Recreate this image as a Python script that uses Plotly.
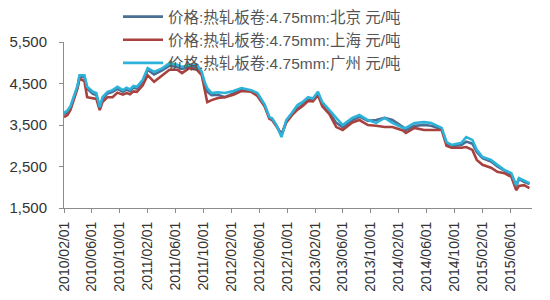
import plotly.graph_objects as go

dates = ["2010-02-01", "2010-02-16", "2010-03-01", "2010-03-16", "2010-04-01", "2010-04-10",
         "2010-05-01", "2010-05-13", "2010-06-07", "2010-06-22", "2010-07-07", "2010-07-19",
         "2010-08-10", "2010-09-01", "2010-09-22", "2010-10-16", "2010-11-01", "2010-11-16",
         "2010-12-01", "2010-12-16", "2011-01-10", "2011-02-01", "2011-03-01", "2011-04-07",
         "2011-05-07", "2011-06-10", "2011-07-01", "2011-08-01", "2011-09-04", "2011-09-25",
         "2011-10-07", "2011-10-19", "2011-11-07", "2011-12-05", "2012-01-04", "2012-02-10",
         "2012-03-16", "2012-04-28", "2012-05-25", "2012-06-25", "2012-07-16", "2012-07-28",
         "2012-08-16", "2012-09-07", "2012-09-28", "2012-10-22", "2012-11-16", "2012-12-07",
         "2013-01-01", "2013-01-22", "2013-02-13", "2013-03-04", "2013-04-04", "2013-05-04",
         "2013-06-01", "2013-07-13", "2013-08-13", "2013-09-19", "2013-10-25", "2013-12-01",
         "2014-01-04", "2014-02-19", "2014-03-04", "2014-04-10", "2014-05-22", "2014-06-22",
         "2014-08-07", "2014-08-28", "2014-09-19", "2014-11-01", "2014-11-22", "2014-12-19",
         "2015-01-07", "2015-02-01", "2015-03-10", "2015-04-07", "2015-05-07", "2015-06-07",
         "2015-06-28", "2015-07-10", "2015-08-01", "2015-08-25"]

guangzhou = [3790, 3850, 3950, 4200, 4450, 4700,
             4700, 4420, 4300, 4270, 3930, 4170,
             4300, 4340, 4420, 4340, 4400, 4360,
             4440, 4420, 4580, 4870, 4780, 4870,
             4990, 4950, 4900, 4950, 4950, 4780,
             4540, 4390, 4270, 4290, 4270, 4320,
             4390, 4340, 4270, 4000, 3690, 3660,
             3500, 3210, 3620, 3790, 3980, 4050,
             4170, 4140, 4300, 4050, 3860, 3670,
             3500, 3670, 3740, 3620, 3550, 3670,
             3550, 3430, 3430, 3550, 3570, 3550,
             3430, 3090, 3020, 3070, 3210, 3140,
             2900, 2730, 2660, 2540, 2420, 2340,
             2050, 2220, 2170, 2100]
beijing = [3760, 3820, 3920, 4170, 4420, 4680,
           4660, 4380, 4250, 4220, 3900, 4120,
           4260, 4300, 4370, 4300, 4350, 4320,
           4400, 4380, 4540, 4830, 4720, 4820,
           4930, 4900, 4850, 4900, 4900, 4740,
           4500, 4300, 4220, 4230, 4170, 4260,
           4350, 4320, 4220, 3980, 3680, 3640,
           3480, 3260, 3580, 3750, 3900, 3980,
           4100, 4100, 4250, 4000, 3800, 3550,
           3450, 3620, 3700, 3600, 3620, 3670,
           3620, 3450, 3380, 3480, 3500, 3480,
           3400, 3060, 2990, 3020, 3100, 3050,
           2850, 2700, 2620, 2500, 2400, 2300,
           2020, 2200, 2130, 2080]
shanghai = [3690, 3740, 3860, 4100, 4380, 4620,
            4560, 4170, 4150, 4130, 3860, 4050,
            4170, 4170, 4280, 4230, 4270, 4240,
            4310, 4300, 4450, 4700, 4540, 4700,
            4830, 4830, 4750, 4870, 4830, 4700,
            4400, 4050, 4100, 4150, 4170, 4230,
            4320, 4300, 4200, 3950, 3650, 3620,
            3470, 3280, 3560, 3730, 3870, 3950,
            4080, 4070, 4220, 3950, 3760, 3450,
            3380, 3560, 3620, 3500, 3480, 3450,
            3450, 3370, 3310, 3430, 3380, 3380,
            3380, 3000, 2950, 2950, 2970, 2900,
            2660, 2540, 2470, 2370, 2340, 2250,
            1930, 2030, 2050, 1980]

names = ["价格:热轧板卷:4.75mm:北京 元/吨",
         "价格:热轧板卷:4.75mm:上海 元/吨",
         "价格:热轧板卷:4.75mm:广州 元/吨"]
colors = ["#4A6E94", "#A8423F", "#2DB3DA"]

tick_dates = ["2010-02-01", "2010-06-01", "2010-10-01", "2011-02-01", "2011-06-01",
              "2011-10-01", "2012-02-01", "2012-06-01", "2012-10-01", "2013-02-01",
              "2013-06-01", "2013-10-01", "2014-02-01", "2014-06-01", "2014-10-01",
              "2015-02-01", "2015-06-01"]
tick_text = [d.replace("-", "/") for d in tick_dates]
y_ticks = [1500, 2500, 3500, 4500, 5500]

fig = go.Figure()
for i, (name, vals) in enumerate(zip(names, [beijing, shanghai, guangzhou])):
    fig.add_trace(go.Scatter(x=dates, y=vals, mode="lines", name=name,
                             legendgroup=f"g{i}",
                             line=dict(color=colors[i], width=2.6)))

fig.update_layout(
    width=550, height=300,
    margin=dict(l=64, r=18, t=42, b=92, autoexpand=False),
    paper_bgcolor="white", plot_bgcolor="white",
    font=dict(family="Liberation Sans, Noto Sans CJK SC", color="#333333"),
    showlegend=True,
    legend=dict(xref="container", yref="container", x=118/550, y=1.0,
                xanchor="left", yanchor="top", bgcolor="rgba(0,0,0,0)",
                tracegroupgap=7, traceorder="normal", itemwidth=40,
                font=dict(size=15.5, color="#555555",
                          family="Liberation Sans, Noto Sans CJK SC")),
    xaxis=dict(type="date", range=["2010-02-01", "2015-09-05"],
               tickvals=tick_dates, ticktext=tick_text, tickangle=-90,
               ticks="outside", ticklen=4, tickcolor="#8C8C8C",
               showline=True, linecolor="#8C8C8C", linewidth=1,
               showgrid=False, zeroline=False, ticklabelstandoff=3,
               tickfont=dict(size=14, color="#333333")),
    yaxis=dict(range=[1500, 5500], tickvals=y_ticks, tickformat=",",
               ticks="outside", ticklen=4, tickcolor="#8C8C8C",
               showline=True, linecolor="#8C8C8C", linewidth=1,
               showgrid=False, zeroline=False, ticklabelstandoff=9,
               tickfont=dict(size=15, color="#333333")),
)

fig.write_html("out.html")
